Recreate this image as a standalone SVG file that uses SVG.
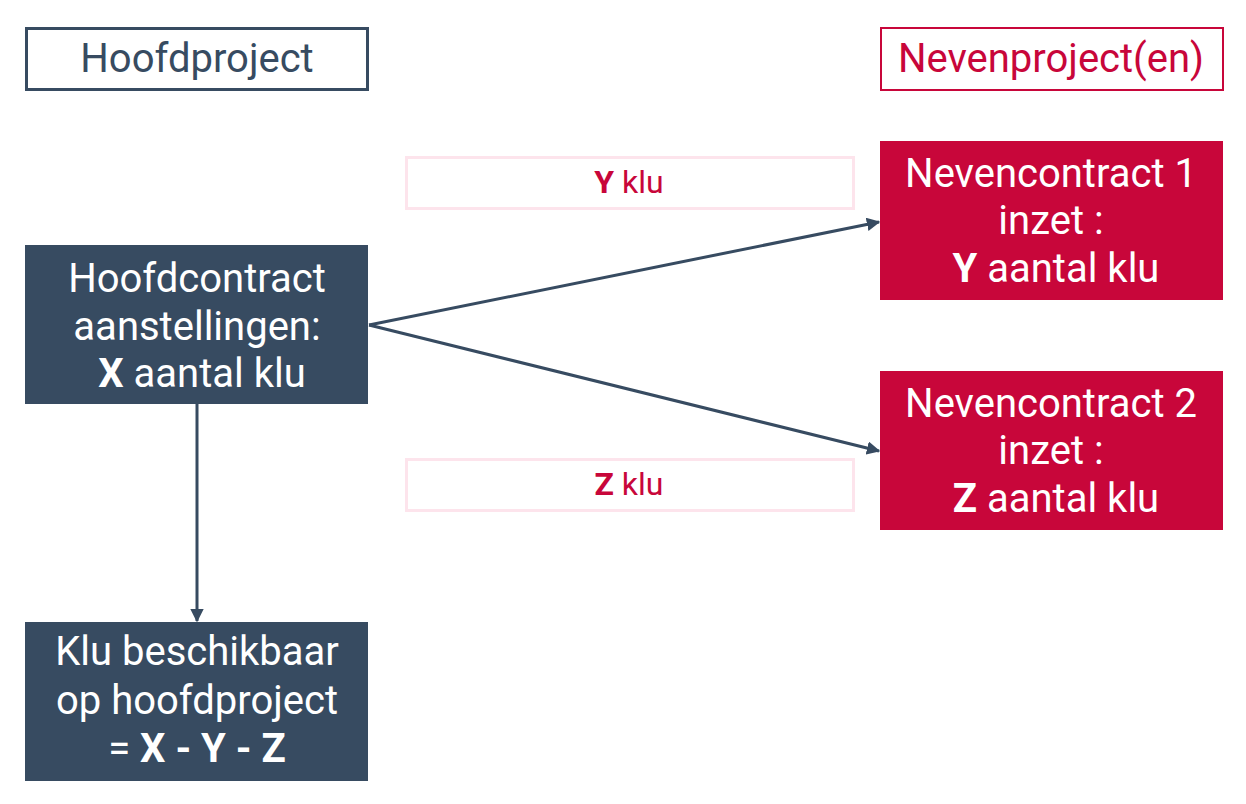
<svg xmlns="http://www.w3.org/2000/svg" width="1246" height="804" viewBox="0 0 1246 804">
<defs>
<style>
text{font-family:Roboto,"Liberation Sans",sans-serif;text-anchor:middle}
.hdr{font-size:40px}
.nt{font-size:40px;fill:#ffffff}
.lbl{font-size:32px;fill:#c8063a}
.b{font-weight:bold}
.dark{fill:#374b61}
.red{fill:#c8063a}
.conn{stroke:#374b61;stroke-width:3;fill:none;marker-end:url(#ah)}
</style>
<marker id="ah" viewBox="0 0 10 10" refX="9" refY="5" markerWidth="4.5" markerHeight="4.5" orient="auto" markerUnits="strokeWidth">
<path d="M0,0 L10,5 L0,10 z" fill="#374b61"/>
</marker>
</defs>
<rect width="1246" height="804" fill="#ffffff"/>
<g id="hoofdproject">
<rect x="26.5" y="28.5" width="341" height="61" fill="#ffffff" stroke="#374b61" stroke-width="3"/>
<text class="hdr" x="197" y="72" fill="#374b61">Hoofdproject</text>
</g>
<g id="nevenproject">
<rect x="881" y="28" width="342" height="62" fill="#ffffff" stroke="#c8063a" stroke-width="2"/>
<text class="hdr" x="1051" y="72" fill="#c8063a">Nevenproject(en)</text>
</g>
<g id="label-y">
<rect x="406.5" y="157.5" width="447" height="51" fill="#ffffff" stroke="#fde4ec" stroke-width="3"/>
<text class="lbl" x="629" y="193"><tspan class="b">Y</tspan> klu</text>
</g>
<g id="label-z">
<rect x="406.5" y="459.5" width="447" height="51" fill="#ffffff" stroke="#fde4ec" stroke-width="3"/>
<text class="lbl" x="629" y="495"><tspan class="b">Z</tspan> klu</text>
</g>
<g id="hoofdcontract">
<rect class="dark" x="25" y="245" width="343" height="159"/>
<text class="nt" x="197" y="292">Hoofdcontract</text>
<text class="nt" x="197" y="340">aanstellingen:</text>
<text class="nt" x="202" y="387"><tspan class="b">X</tspan> aantal klu</text>
</g>
<g id="nevencontract1">
<rect class="red" x="880" y="141" width="343" height="159"/>
<text class="nt" x="1051" y="187">Nevencontract 1</text>
<text class="nt" x="1051" y="234">inzet :</text>
<text class="nt" x="1056" y="282"><tspan class="b">Y</tspan> aantal klu</text>
</g>
<g id="nevencontract2">
<rect class="red" x="880" y="371" width="343" height="159"/>
<text class="nt" x="1051" y="417">Nevencontract 2</text>
<text class="nt" x="1051" y="464">inzet :</text>
<text class="nt" x="1056" y="512"><tspan class="b">Z</tspan> aantal klu</text>
</g>
<g id="klu-beschikbaar">
<rect class="dark" x="25" y="622" width="343" height="159"/>
<text class="nt" x="197" y="665">Klu beschikbaar</text>
<text class="nt" x="197" y="714">op hoofdproject</text>
<text class="nt" x="197" y="762">= <tspan class="b">X - Y - Z</tspan></text>
</g>
<g id="connectors">
<line class="conn" x1="369" y1="325" x2="879" y2="222"/>
<line class="conn" x1="369" y1="325" x2="879" y2="451"/>
<line class="conn" x1="197" y1="404" x2="197" y2="621"/>
</g>
</svg>
